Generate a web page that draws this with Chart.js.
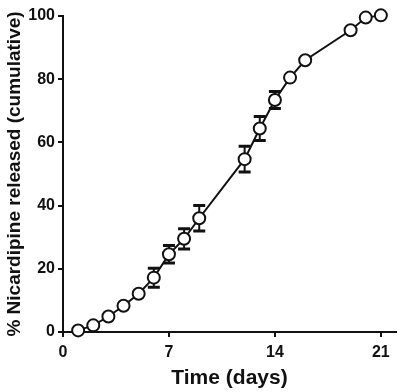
<!DOCTYPE html>
<html>
<head>
<meta charset="utf-8">
<script src="https://cdn.jsdelivr.net/npm/chart.js@4/dist/chart.umd.min.js"></script>
<style>
  body { margin: 0; background: #fff; }
  #wrap { width: 404px; height: 392px; }
</style>
</head>
<body>
<div id="wrap"><canvas id="myChart"></canvas></div>
<script>
// release data
const days = [1, 2, 3, 4, 5, 6, 7, 8, 9, 12, 13, 14, 15, 16, 19, 20, 21];
const released = [0.5, 2.1, 4.9, 8.3, 12.1, 17.2, 24.6, 29.5, 36.0, 54.7, 64.4, 73.4, 80.5, 86.0, 95.5, 99.5, 100.2];
const errors = [0, 0, 0, 0, 0, 3.0, 2.8, 3.2, 4.0, 4.1, 3.8, 2.7, 0, 0, 0, 0, 0];
const xTicks = [0, 7, 14, 21];
const yTicks = [0, 20, 40, 60, 80, 100];

const fontFamily = '"Liberation Sans", Arial, sans-serif';

// error bars drawn under the points, using the chart scales
const errorBars = {
  id: 'errorBars',
  beforeDatasetsDraw(chart) {
    const ctx = chart.ctx;
    const xs = chart.scales.x;
    const ys = chart.scales.y;
    ctx.save();
    ctx.strokeStyle = '#111';
    days.forEach((d, i) => {
      if (!errors[i]) return;
      const px = xs.getPixelForValue(d);
      const top = ys.getPixelForValue(released[i] + errors[i]);
      const bot = ys.getPixelForValue(released[i] - errors[i]);
      ctx.lineWidth = 2;
      ctx.beginPath();
      ctx.moveTo(px, top);
      ctx.lineTo(px, bot);
      ctx.stroke();
      ctx.lineWidth = 3;
      ctx.beginPath();
      ctx.moveTo(px - 6, top);
      ctx.lineTo(px + 6, top);
      ctx.moveTo(px - 6, bot);
      ctx.lineTo(px + 6, bot);
      ctx.stroke();
    });
    ctx.restore();
  }
};

const ctx = document.getElementById('myChart').getContext('2d');
const myChart = new Chart(ctx, {
  type: 'scatter',
  data: {
    datasets: [
      {
        label: 'Nicardipine',
        data: days.map((d, i) => ({ x: d, y: released[i] })),
        showLine: true,
        clip: false,
        borderColor: '#111',
        borderWidth: 2,
        pointRadius: 6,
        pointBorderWidth: 2,
        pointBackgroundColor: '#fff',
        pointBorderColor: '#111',
      },
    ],
  },
  options: {
    responsive: true,
    maintainAspectRatio: false,
    animation: false,
    layout: { padding: { top: 16, right: 2, left: 0, bottom: 0 } },
    plugins: { legend: { display: false }, tooltip: { enabled: false } },
    scales: {
      x: {
        type: 'linear',
        min: 0,
        max: 22,
        afterBuildTicks: (scale) => { scale.ticks = xTicks.map((v) => ({ value: v })); },
        afterFit: (scale) => { scale.height = 60; },
        border: { display: true, color: '#111', width: 2 },
        grid: { drawOnChartArea: false, drawTicks: true, tickLength: 5, color: '#111', lineWidth: 2 },
        ticks: { color: '#111', padding: 6, maxRotation: 0, font: { family: fontFamily, size: 16, weight: 'bold' } },
        title: {
          display: true,
          text: 'Time (days)',
          color: '#111',
          padding: { top: 0, bottom: 1 },
          font: { family: fontFamily, size: 21, weight: 'bold' },
        },
      },
      y: {
        min: 0,
        max: 100,
        afterBuildTicks: (scale) => { scale.ticks = yTicks.map((v) => ({ value: v })); },
        afterFit: (scale) => { scale.width = 63; },
        border: { display: true, color: '#111', width: 2 },
        grid: { drawOnChartArea: false, drawTicks: true, tickLength: 5, color: '#111', lineWidth: 2 },
        ticks: { color: '#111', padding: 3, font: { family: fontFamily, size: 16, weight: 'bold' } },
        title: {
          display: true,
          text: '% Nicardipine released (cumulative)',
          color: '#111',
          padding: { top: 3, bottom: 0 },
          font: { family: fontFamily, size: 19, weight: 'bold' },
        },
      },
    },
  },
  plugins: [errorBars],
});
</script>
</body>
</html>
